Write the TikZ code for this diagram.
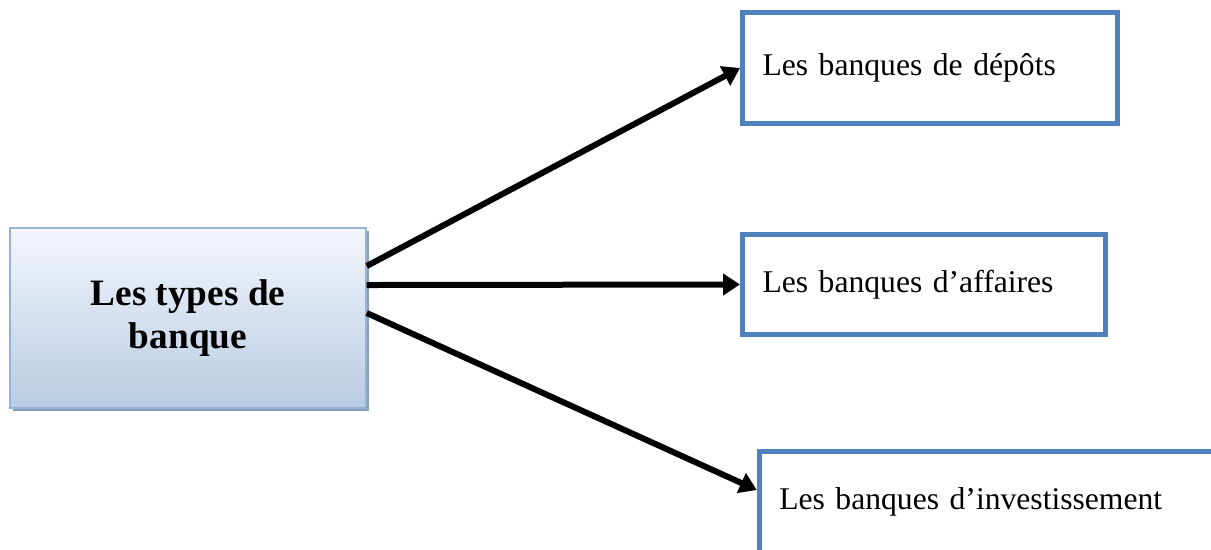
\documentclass[tikz,border=0pt]{standalone}
\usepackage{fontspec}
\setmainfont{Liberation Serif}
\usetikzlibrary{arrows.meta, shadows}
\definecolor{boxblue}{HTML}{4F81BD}
\definecolor{edgeblue}{HTML}{95B3D7}
\definecolor{topblue}{HTML}{F3F6FB}
\definecolor{bottomblue}{HTML}{B8CCE4}
\definecolor{shadowblue}{HTML}{8C9FBA}
\tikzstyle{bank}=[rectangle, draw=boxblue, line width=0.1cm, inner xsep=0.4cm, align=left, font=\fontsize{18}{22}\selectfont]
\tikzstyle{link}=[-{Triangle[length=0.34cm,width=0.42cm]}, line width=0.12cm]

\begin{document}
\begin{tikzpicture}[x=0.02cm, y=-0.02cm]
\clip (0,0) rectangle (1211,549);
% Main box
    \node[rectangle, draw=edgeblue, line width=0.03cm, top color=topblue, bottom color=bottomblue,
          drop shadow={shadow xshift=0.06cm, shadow yshift=-0.06cm, fill=shadowblue, opacity=1},
          minimum width=7.12cm, minimum height=3.6cm, align=center,
          font=\bfseries\fontsize{21.2}{24}\selectfont] (types) at (188,318) {Les types de\\banque};
% Bank boxes
    \node[bank, text width=6.7cm, minimum height=2.22cm] (depots) at (930,68) {Les banques de dépôts};
    \node[bank, text width=6.46cm, minimum height=2cm] (affaires) at (924,284.5) {Les banques d’affaires};
    \node[bank, text width=8.51cm, minimum height=2.03cm] (invest) at (992,502) {Les banques d’investissement};
% Arrows
    \draw[link] ([yshift=1.04cm]types.east) -- (depots.west);
    \draw[link] ([yshift=0.66cm]types.east) -- (affaires.west);
    \draw[link] ([yshift=0.1cm]types.east) -- ([yshift=0.24cm]invest.west);
\end{tikzpicture}
\end{document}
